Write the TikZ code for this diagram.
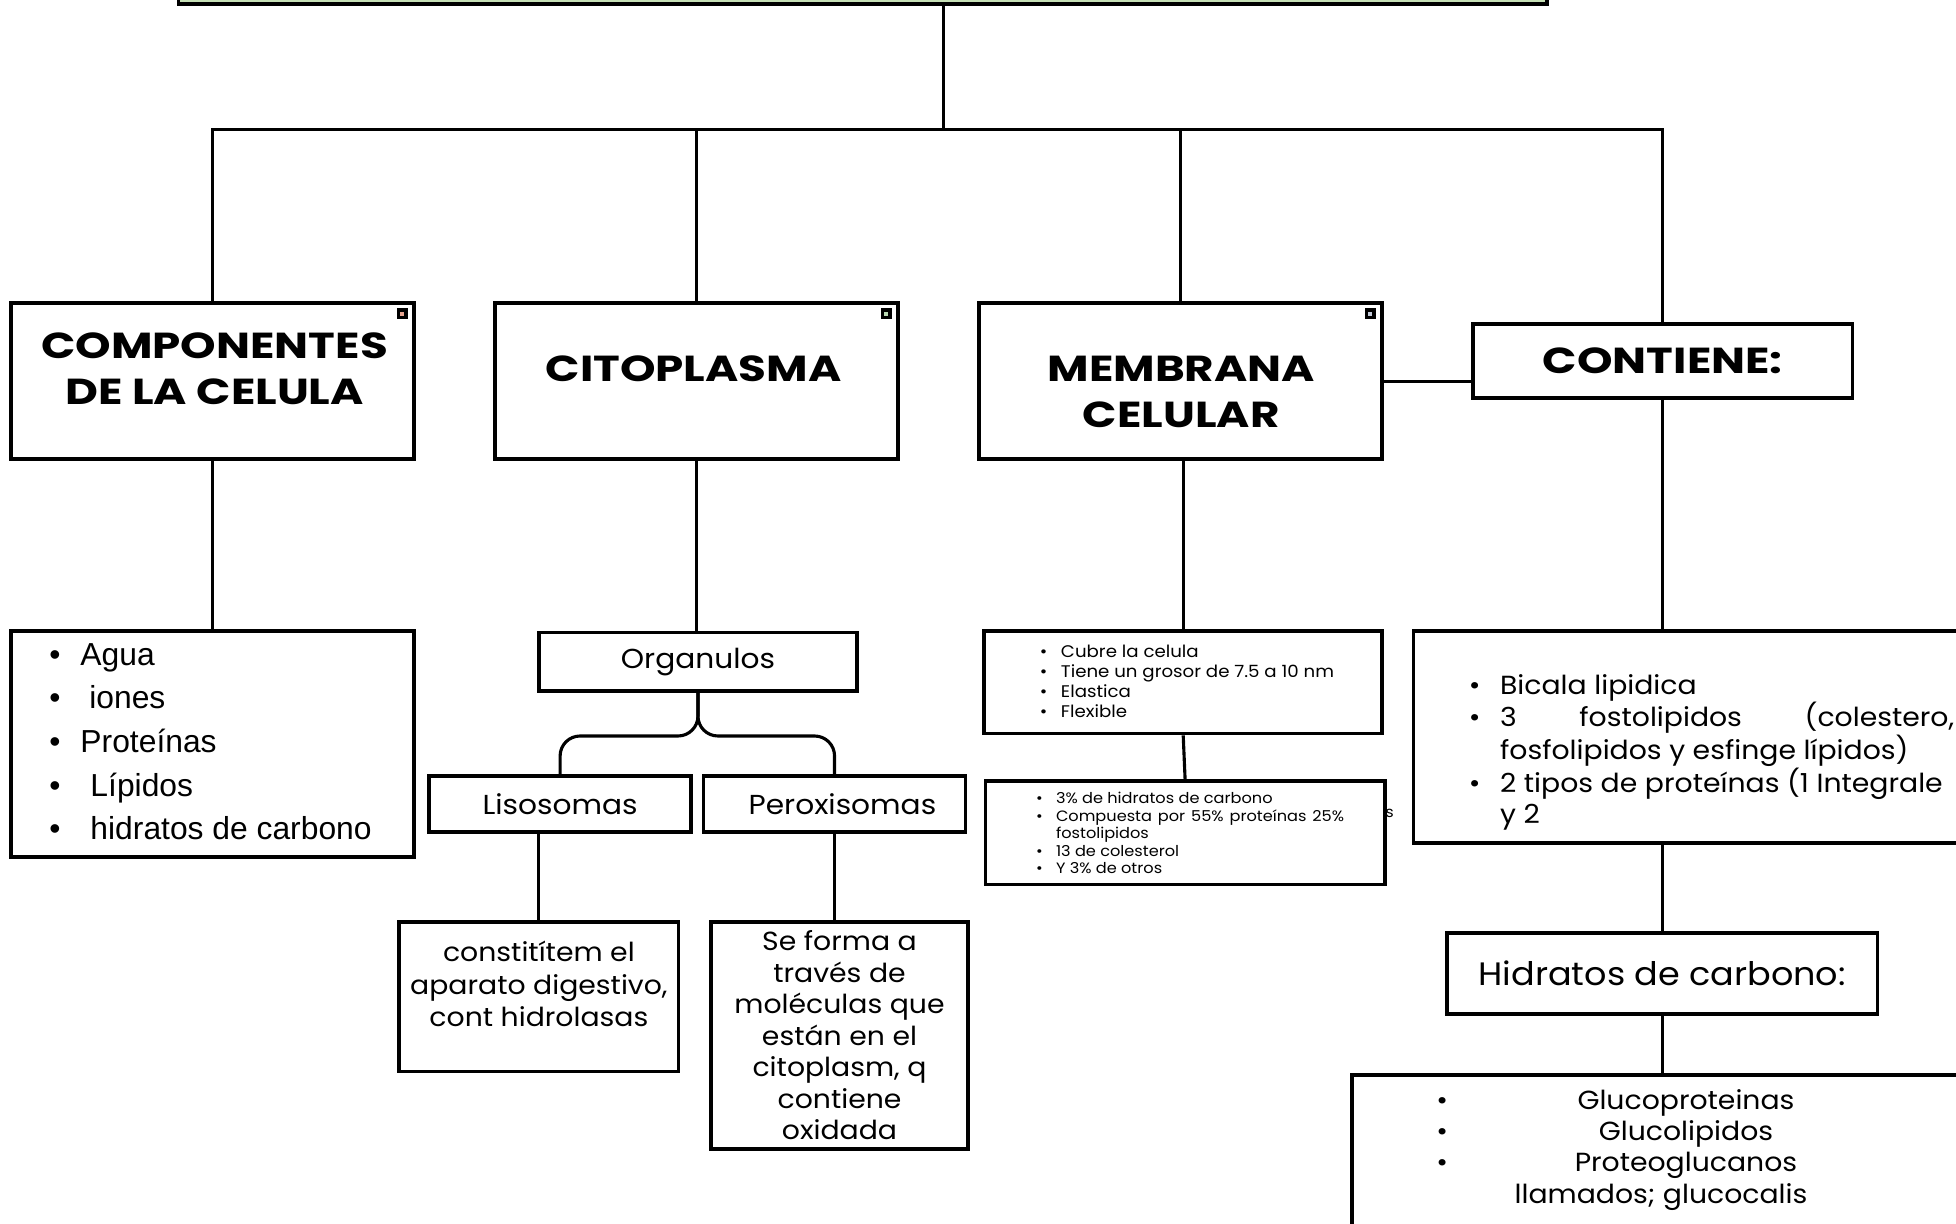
\documentclass[tikz,border=0pt]{standalone}
\usepackage{fontspec}
\usepackage{array}
\setmainfont{Poppins}[FakeStretch=1.08]
\newfontfamily\titulofont{Poppins}[FakeStretch=1.25]
\newfontfamily\arialfont{Liberation Sans}
\definecolor{verdetema}{HTML}{C5DFB5}
\definecolor{salmon}{HTML}{E8A48F}
\definecolor{verdemarca}{HTML}{B9D9B2}
\definecolor{azulmarca}{HTML}{C3CAD9}
\newcommand{\vineta}[1]{\makebox[#1][l]{\textbullet}}

\begin{document}
\begin{tikzpicture}[x=1pt, y=-1pt,
        caja/.style={draw, line width=3pt, inner sep=0pt},
        conn/.style={line width=2.5pt},
        titulo/.style={font=\titulofont\bfseries\fontsize{29}{37}\selectfont, align=center},
        texto/.style={font=\fontsize{21}{25.5}\selectfont, align=center},
        marca/.style={draw, line width=3pt, fill=#1, minimum size=6pt, inner sep=0pt}]
        \useasboundingbox (0,0) rectangle (1568,981);
        \clip (0,0) rectangle (1568,981);

        % Tema
        \node[caja, fill=verdetema, minimum width=1097pt, minimum height=62pt] (tema) at (691.5,-28) {};
        \coordinate (barra) at (756,104);

        % Titulos
        \node[caja, minimum width=323pt, minimum height=125pt] (comp) at (170.5,305.5) {};
        \node[titulo] (comptxt) at (172,295.5) {COMPONENTES\\DE LA CELULA};
        \node[caja, minimum width=323pt, minimum height=125pt] (cito) at (558.5,305.5) {};
        \node[titulo] (citotxt) at (556,296) {CITOPLASMA};
        \node[caja, minimum width=323pt, minimum height=125pt] (memb) at (946.5,305.5) {};
        \node[titulo] (membtxt) at (947,314) {MEMBRANA\\CELULAR};
        \node[caja, titulo, minimum width=304pt, minimum height=59pt] (cont) at (1333,289.5) {CONTIENE:};

        % Marcas
        \node[marca=salmon] (m1) at ([xshift=-11pt, yshift=-10pt]comp.north east) {};
        \node[marca=verdemarca] (m2) at ([xshift=-11pt, yshift=-10pt]cito.north east) {};
        \node[marca=azulmarca] (m3) at ([xshift=-11pt, yshift=-10pt]memb.north east) {};

        % Componentes
        \node[caja, minimum width=323pt, minimum height=181pt] (lista) at (170.5,596.5) {};
        \node[anchor=west, align=left, font=\arialfont\fontsize{25.5}{35}\selectfont] (listatxt) at (36,594.5)
            {\vineta{25pt}Agua\\ \vineta{25pt}\ iones\\ \vineta{25pt}Proteínas\\ \vineta{33pt}Lípidos\\ \vineta{33pt}hidratos de carbono};

        % Citoplasma
        \node[caja, texto, font=\fontsize{22}{26}\selectfont, minimum width=255pt, minimum height=47pt] (org) at (559.5,530.5) {Organulos};
        \node[caja, texto, font=\fontsize{22}{26}\selectfont, minimum width=210pt, minimum height=45pt] (liso) at (449,644.5) {Lisosomas};
        \node[caja, texto, font=\fontsize{22}{26}\selectfont, minimum width=210pt, minimum height=45pt] (perox) at (669,644.5) {\ \ Peroxisomas};
        \node[caja, minimum width=224pt, minimum height=120pt] (consti) at (432,799) {};
        \node[texto, font=\fontsize{21}{26}\selectfont] (constitxt) at (432,789) {constitítem el\\aparato digestivo,\\cont hidrolasas};
        \node[caja, texto, font=\fontsize{21}{25.3}\selectfont, minimum width=206pt, minimum height=182pt] (seforma) at (673,830)
            {Se forma a\\través de\\moléculas que\\están en el\\citoplasm, q\\contiene\\oxidada};
        \coordinate (brazo) at (559.5,590);

        % Membrana
        \node[caja, minimum width=319pt, minimum height=82pt] (cubre) at (948.5,547) {};
        \node[anchor=west, align=left, font=\fontsize{13.5}{16}\selectfont] (cubretxt) at (830,546)
            {\vineta{17pt}Cubre la celula\\ \vineta{17pt}Tiene un grosor de 7.5 a 10 nm\\ \vineta{17pt}Elastica\\ \vineta{17pt}Flexible};
        \node[caja, minimum width=320pt, minimum height=83pt] (porc) at (950,667.5) {};
        \node[anchor=west, align=left, font=\fontsize{12}{14}\selectfont] (porctxt) at (827,668)
            {\vineta{16pt}3\% de hidratos de carbono\\
             \vineta{16pt}\makebox[231pt][s]{Compuesta por 55\% proteínas 25\%}\\
             \hspace*{16pt}fostolipidos\\
             \vineta{16pt}13 de colesterol\\
             \vineta{16pt}Y 3\% de otros};
        \node[font=\fontsize{12}{14}\selectfont] (resto) at (1114,652) {s};

        % Contiene
        \node[caja, minimum width=467pt, minimum height=170pt] (bicala) at (1366.5,591) {};
        \node[anchor=west, align=left, font=\fontsize{21}{25}\selectfont] (bicalatxt) at (1174,603)
            {\vineta{25pt}Bicala lipidica\\
             \vineta{25pt}\makebox[364pt][s]{3 fostolipidos (colestero,}\\
             \hspace*{25pt}fosfolipidos y esfinge lípidos)\\
             \vineta{25pt}2 tipos de proteínas (1 Integrale\\
             \hspace*{25pt}y 2};
        \node[caja, texto, font=\fontsize{26}{30}\selectfont, minimum width=345pt, minimum height=65pt] (hidr) at (1332.5,780.5) {Hidratos de carbono:};
        \node[caja, minimum width=536pt, minimum height=126pt] (gluco) at (1352,925) {};
        \node[anchor=west, font=\fontsize{21}{25}\selectfont] (glucotxt) at (1148,922)
            {\begin{tabular}{@{}p{50pt}@{}>{\centering\arraybackslash}p{300pt}@{}}
             \textbullet & Glucoproteinas\\
             \textbullet & Glucolipidos\\
             \textbullet & Proteoglucanos\\
             \multicolumn{2}{@{}c@{}}{\hspace{10pt}llamados; glucocalis}
             \end{tabular}};

        % Conectores
        \draw[conn] (tema.south -| barra) -- (barra);
        \draw[conn] (comp.north) |- (barra) -| (cont.north);
        \draw[conn] (cito.north) -- (cito.north |- barra);
        \draw[conn] (memb.north) -- (memb.north |- barra);
        \draw[conn] (comp.south) -- (lista.north);
        \draw[conn] (cito.south) -- (cito.south |- org.north);
        \draw[conn, rounded corners=16pt] (org.south) -- (brazo) -| (liso.north);
        \draw[conn, rounded corners=16pt] (org.south) -- (brazo) -| (perox.north);
        \draw[conn] (consti.north) -- (consti.north |- liso.south);
        \draw[conn] (perox.south) -- (perox.south |- seforma.north);
        \draw[conn] (cubre.north) -- (cubre.north |- memb.south);
        \draw[conn] (cubre.south) -- (porc.north);
        \draw[conn] (memb.east) -- (memb.east -| cont.west);
        \draw[conn] (cont.south) -- (cont.south |- bicala.north);
        \draw[conn] (hidr.north) -- (hidr.north |- bicala.south);
        \draw[conn] (hidr.south) -- (hidr.south |- gluco.north);
    \end{tikzpicture}
\end{document}
